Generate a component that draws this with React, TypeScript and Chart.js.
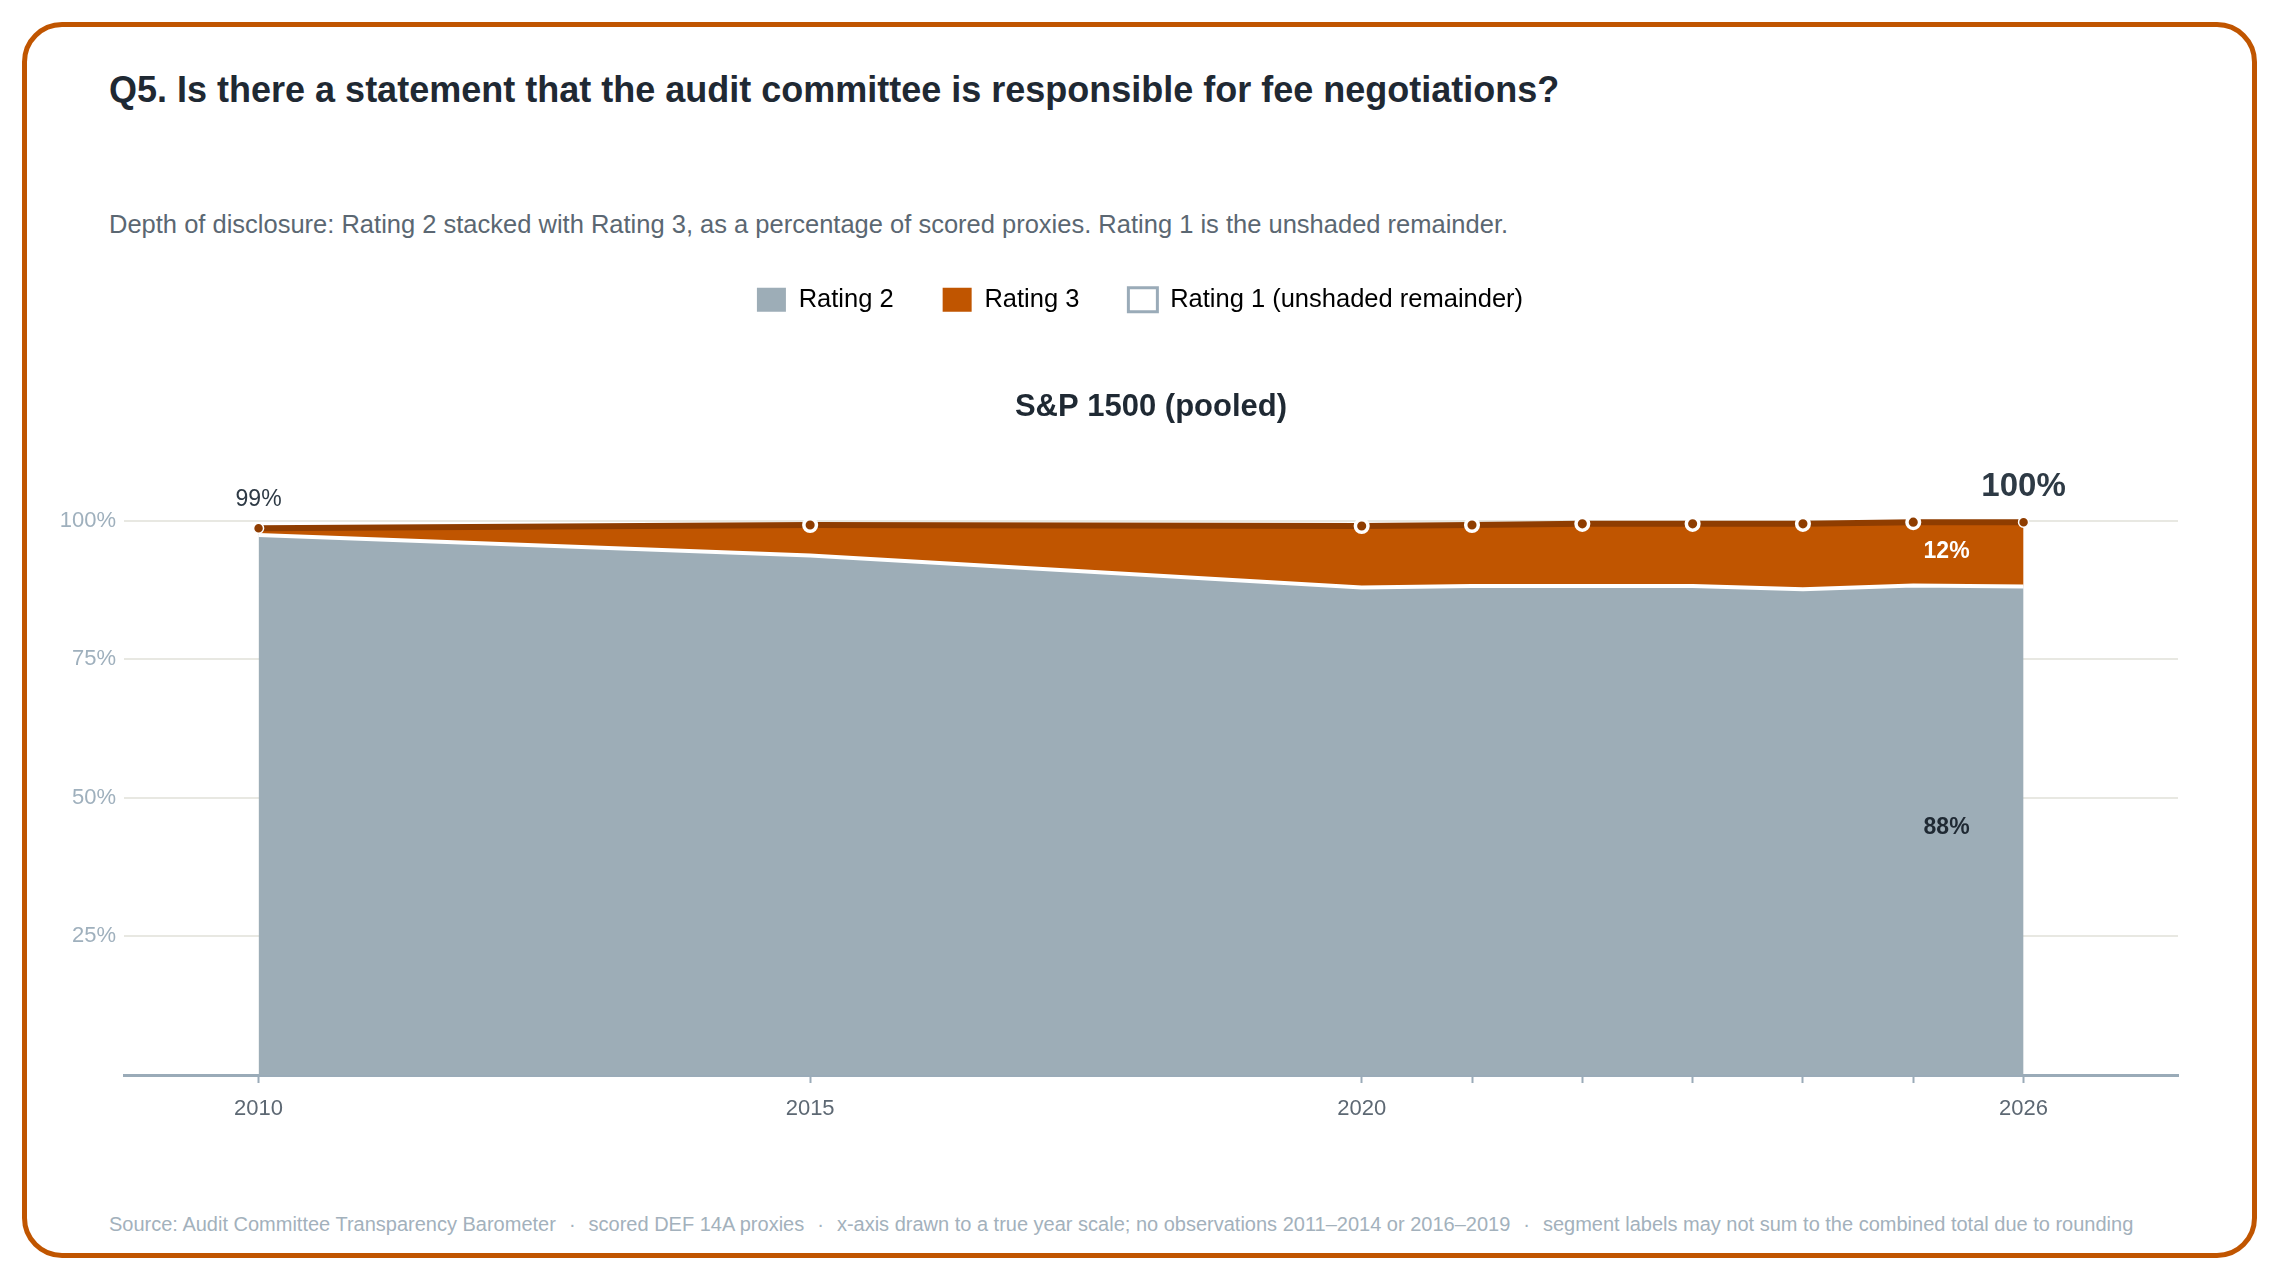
import React, { useEffect, useRef } from "react";
import { Chart, registerables } from "chart.js";

Chart.register(...registerables);

const FF = "'Liberation Sans', Arial, Helvetica, sans-serif";

// ---- data ----
const years = [2010, 2015, 2020, 2021, 2022, 2023, 2024, 2025, 2026];
const rating2 = [97.4, 93.7, 87.9, 88.2, 88.2, 88.2, 87.6, 88.3, 88.1];
const rating3 = [1.2, 5.5, 11.1, 11.0, 11.2, 11.2, 11.8, 11.4, 11.6];
const labeledYears = [2010, 2015, 2020, 2026];
const yTicks = [0, 25, 50, 75, 100];
const legendLabels = ["Rating 2", "Rating 3", "Rating 1 (unshaded remainder)"];
const chartTitle = "S&P 1500 (pooled)";
const mainTitle =
  "Q5. Is there a statement that the audit committee is responsible for fee negotiations?";
const subTitle =
  "Depth of disclosure: Rating 2 stacked with Rating 3, as a percentage of scored proxies. Rating 1 is the unshaded remainder.";
const footerParts = [
  "Source: Audit Committee Transparency Barometer",
  "scored DEF 14A proxies",
  "x-axis drawn to a true year scale; no observations 2011–2014 or 2016–2019",
  "segment labels may not sum to the combined total due to rounding",
];

const GREY = "#9dadb7";
const ORANGE = "#c05500";
const DARK = "#8f3d00";
const AXIS = "#9aabb8";

const labelPlugin = {
  id: "segLabels",
  afterDatasetsDraw(chart: any) {
    const ctx = chart.ctx;
    const meta = chart.getDatasetMeta(1);
    const n = years.length - 1;
    const first = meta.data[0];
    const last = meta.data[n];
    const ys = chart.scales.y;
    const total0 = rating2[0] + rating3[0];
    const totalN = rating2[n] + rating3[n];
    ctx.save();
    ctx.textAlign = "center";
    ctx.textBaseline = "alphabetic";
    ctx.fillStyle = "#2e3a45";
    ctx.font = `23px ${FF}`;
    ctx.fillText(`${Math.round(total0)}%`, first.x, first.y - 22);
    ctx.font = `bold 33px ${FF}`;
    ctx.fillText(`${Math.round(totalN)}%`, last.x, last.y - 26);
    const lx = last.x - 77;
    ctx.textBaseline = "middle";
    ctx.font = `bold 23px ${FF}`;
    ctx.fillStyle = "#ffffff";
    ctx.fillText(
      `${Math.round(rating3[n])}%`,
      lx,
      ys.getPixelForValue(rating2[n] + rating3[n] / 2) - 3
    );
    ctx.fillStyle = "#1f2933";
    ctx.fillText(`${Math.round(rating2[n])}%`, lx, ys.getPixelForValue(rating2[n] / 2) - 3);
    ctx.restore();
  },
};

function AreaChart() {
  const ref = useRef<HTMLCanvasElement | null>(null);
  useEffect(() => {
    if (!ref.current) return;
    Chart.defaults.font.family = FF;
    const isEnd = (i: number) => i === 0 || i === years.length - 1;
    const chart = new Chart(ref.current, {
      type: "line",
      data: {
        datasets: [
          {
            label: legendLabels[0],
            data: years.map((x, i) => ({ x, y: rating2[i] })),
            fill: "origin",
            backgroundColor: GREY,
            borderColor: "#ffffff",
            borderWidth: 4,
            pointRadius: 0,
            tension: 0,
            clip: false,
          },
          {
            label: legendLabels[1],
            data: years.map((x, i) => ({ x, y: rating3[i] })),
            fill: "-1",
            backgroundColor: ORANGE,
            borderColor: DARK,
            borderWidth: 6,
            pointRadius: years.map((_, i) => (isEnd(i) ? 5 : 6.3)),
            pointBackgroundColor: DARK,
            pointBorderColor: "#ffffff",
            pointBorderWidth: years.map((_, i) => (isEnd(i) ? 1.5 : 3.5)),
            tension: 0,
            clip: false,
          },
        ],
      } as any,
      options: {
        responsive: false,
        animation: false,
        layout: { padding: { left: 0, right: 0, top: 0, bottom: 0 } },
        plugins: {
          legend: {
            position: "top",
            align: "center",
            weight: 3000,
            onClick: () => {},
            labels: {
              boxWidth: 29,
              boxHeight: 24,
              padding: 49,
              color: "#3e4a56",
              font: { size: 25.5 },
              generateLabels: () => [
                { text: legendLabels[0], fillStyle: GREY, strokeStyle: GREY, lineWidth: 0, hidden: false, datasetIndex: 0 },
                { text: legendLabels[1], fillStyle: ORANGE, strokeStyle: ORANGE, lineWidth: 0, hidden: false, datasetIndex: 1 },
                { text: legendLabels[2], fillStyle: "#ffffff", strokeStyle: AXIS, lineWidth: 3, hidden: false },
              ],
            },
          },
          title: {
            display: true,
            text: chartTitle,
            fullSize: false,
            color: "#1f2933",
            font: { size: 31, weight: "bold" },
            padding: { top: 66, bottom: 94.8 },
          },
          tooltip: { enabled: false },
        },
        scales: {
          x: {
            type: "linear",
            min: 2008.78,
            max: 2027.4,
            afterBuildTicks: (s: any) => {
              s.ticks = years.map((v) => ({ value: v }));
            },
            afterFit: (s: any) => {
              s.height = 60;
            },
            ticks: {
              autoSkip: false,
              maxRotation: 0,
              color: "#5d6873",
              font: { size: 22 },
              padding: 13,
              callback: (v: any) => (labeledYears.includes(Number(v)) ? String(v) : ""),
            },
            grid: {
              drawOnChartArea: false,
              drawTicks: true,
              tickLength: 8,
              tickColor: AXIS,
              tickWidth: 2,
            },
            border: { display: true, color: AXIS, width: 3 },
          },
          y: {
            stacked: true,
            min: 0,
            max: 100,
            afterBuildTicks: (s: any) => {
              s.ticks = yTicks.map((v) => ({ value: v }));
            },
            afterFit: (s: any) => {
              s.width = 97;
            },
            ticks: {
              color: "#9fb0bd",
              font: { size: 22 },
              padding: 8,
              callback: (v: any) => (Number(v) === 0 ? "" : `${v}%`),
            },
            grid: {
              color: (c: any) => (c.tick && c.tick.value === 0 ? "rgba(0,0,0,0)" : "#e8e8e2"),
              lineWidth: 2,
              drawTicks: false,
            },
            border: { display: false },
          },
          spacer: {
            type: "linear",
            position: "right",
            display: true,
            afterFit: (s: any) => {
              s.width = 75;
            },
            ticks: { display: false },
            grid: { display: false, drawTicks: false },
            border: { display: false },
          },
        },
      } as any,
      plugins: [labelPlugin],
    });
    return () => chart.destroy();
  }, []);
  return (
    <canvas
      ref={ref}
      width={2226}
      height={897}
      style={{ position: "absolute", left: 27, top: 238, width: 2226, height: 897 }}
    />
  );
}

export default function App() {
  return (
    <div
      style={{
        position: "absolute",
        left: 0,
        top: 0,
        width: 2280,
        height: 1280,
        background: "#ffffff",
        fontFamily: FF,
      }}
    >
      <div
        style={{
          position: "absolute",
          left: 22,
          top: 22,
          width: 2235,
          height: 1236,
          boxSizing: "border-box",
          border: `5px solid ${ORANGE}`,
          borderRadius: 40,
        }}
      />
      <div
        style={{
          position: "absolute",
          left: 109,
          top: 72,
          fontSize: 36,
          fontWeight: 700,
          lineHeight: 1,
          color: "#1f2933",
          whiteSpace: "nowrap",
        }}
      >
        {mainTitle}
      </div>
      <div
        style={{
          position: "absolute",
          left: 109,
          top: 212,
          fontSize: 25.5,
          lineHeight: 1,
          color: "#5b6772",
          whiteSpace: "nowrap",
        }}
      >
        {subTitle}
      </div>
      <AreaChart />
      <div
        style={{
          position: "absolute",
          left: 109,
          top: 1214,
          fontSize: 20,
          lineHeight: 1,
          color: "#a3b1bc",
          whiteSpace: "nowrap",
        }}
      >
        {footerParts.map((p, i) => (
          <span key={i}>
            {i > 0 && <span style={{ margin: "0 13px" }}>·</span>}
            {p}
          </span>
        ))}
      </div>
    </div>
  );
}
